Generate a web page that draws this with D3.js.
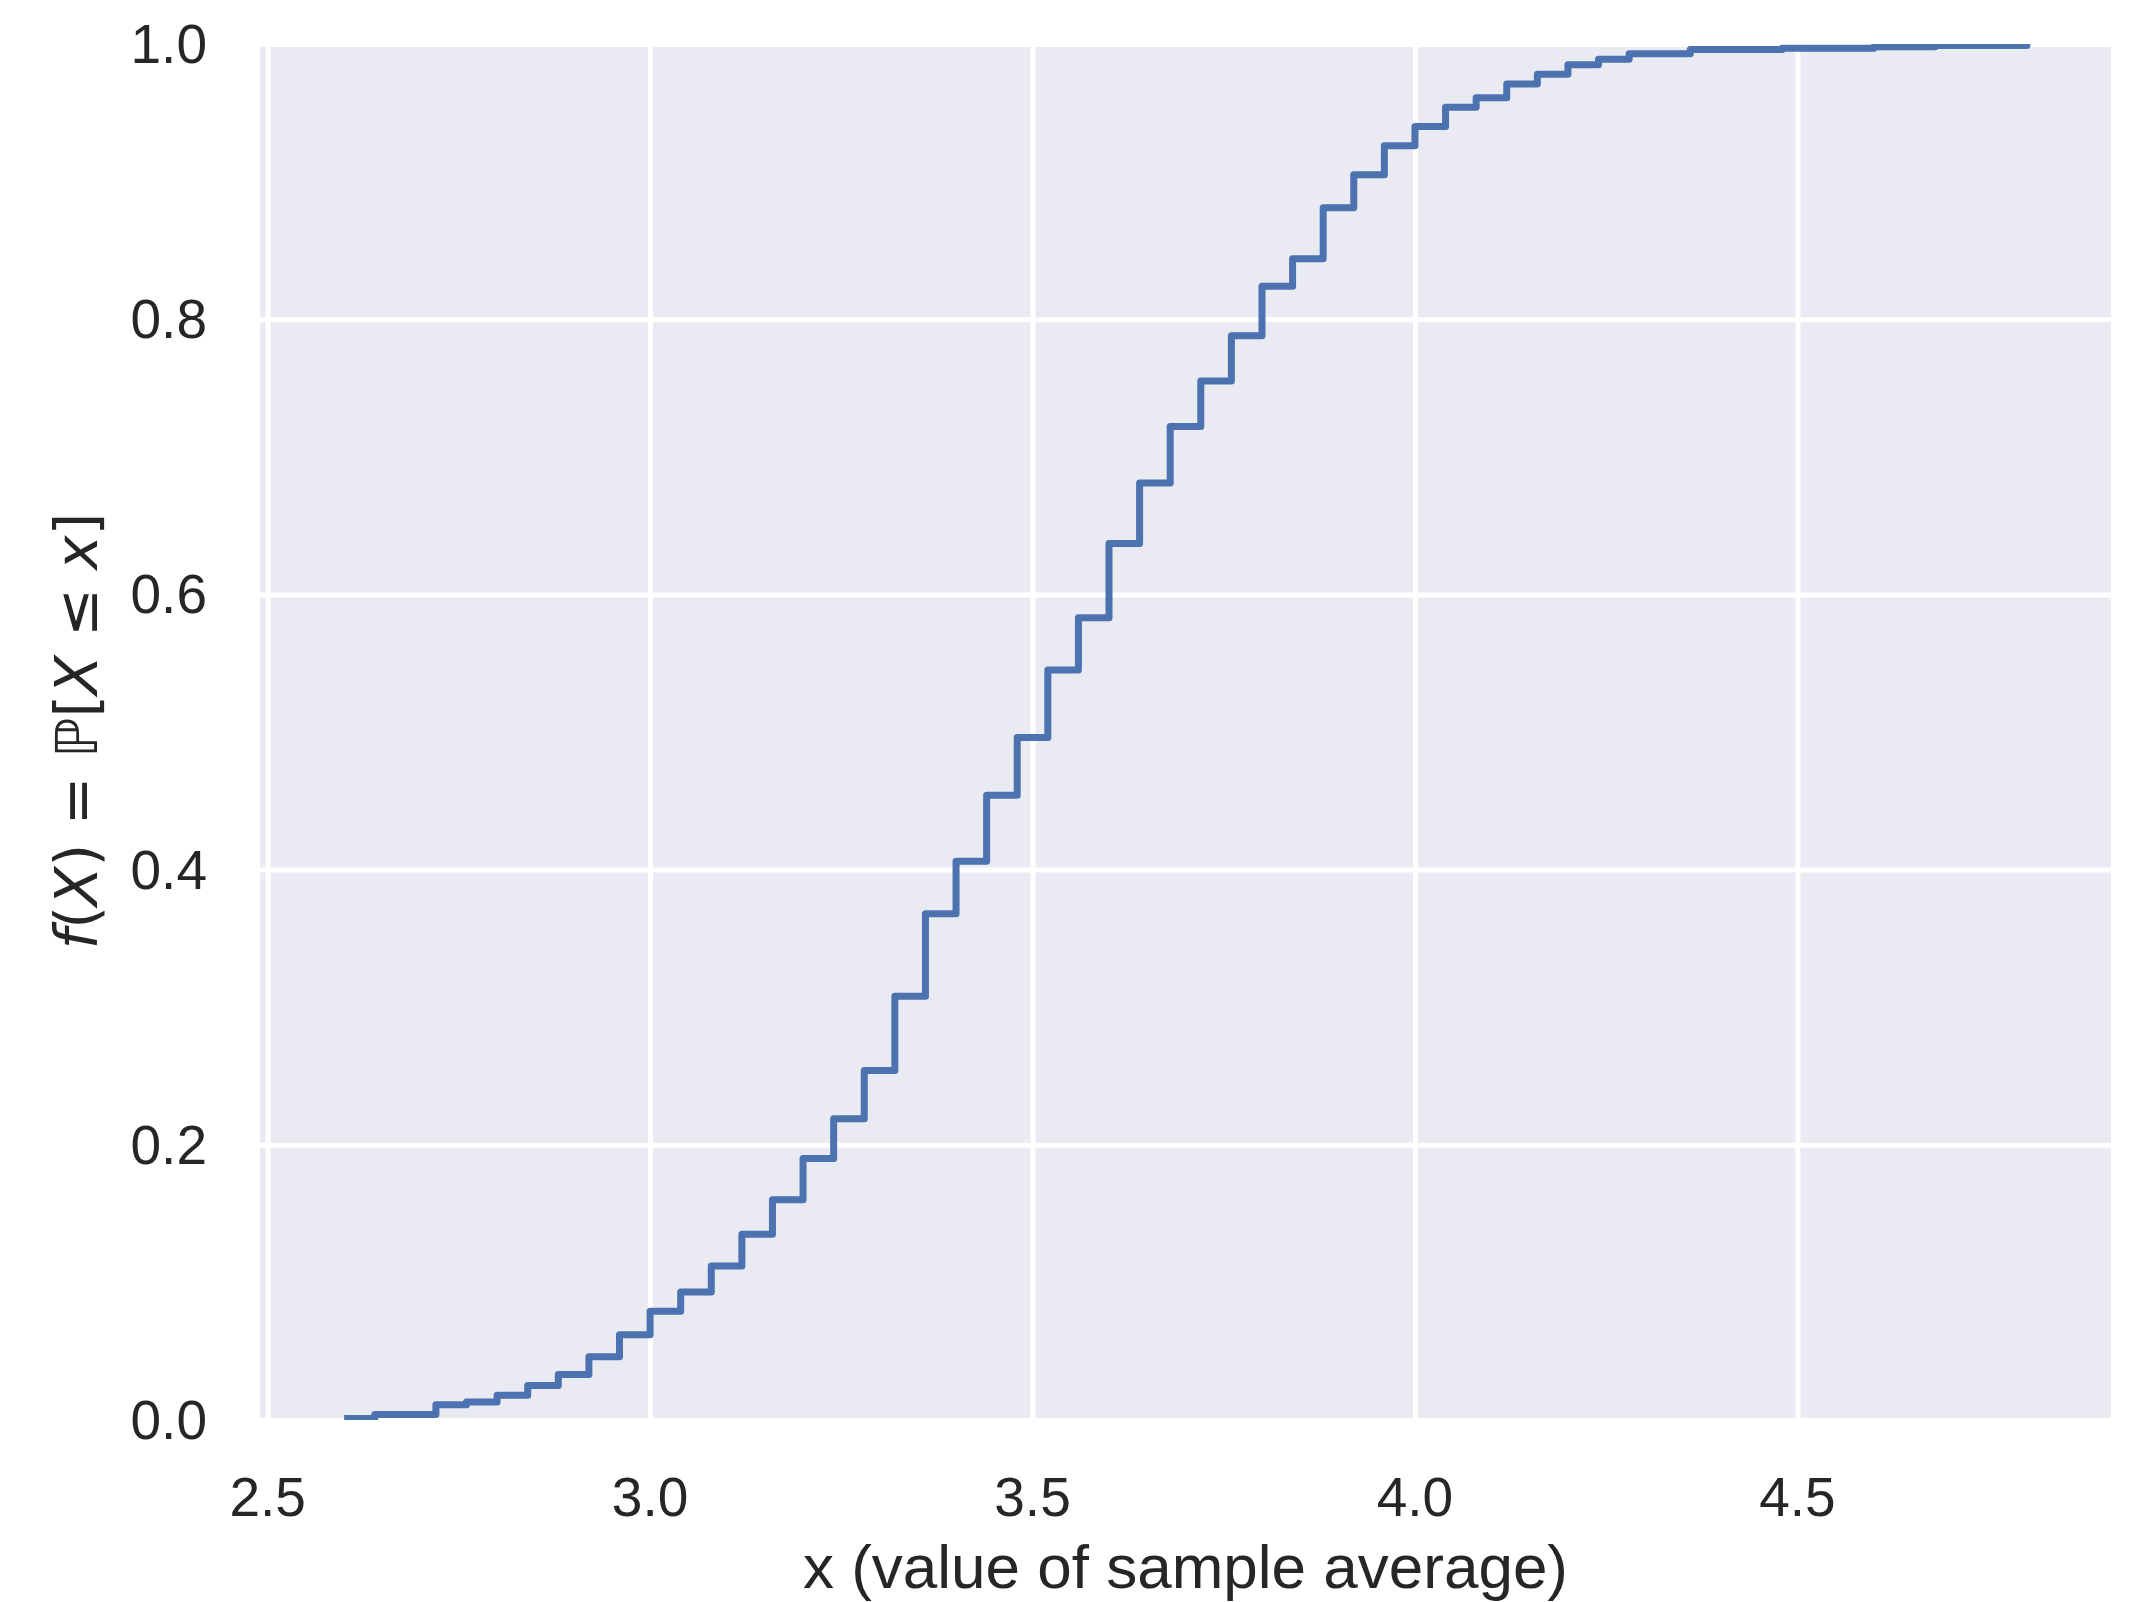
<!DOCTYPE html>
<html>
<head>
<meta charset="utf-8">
<script src="https://cdn.jsdelivr.net/npm/d3@7"></script>
<style>
  html, body { margin: 0; padding: 0; background: #ffffff; }
  svg { display: block; }
</style>
</head>
<body>
<svg id="chart" width="2137" height="1602"></svg>
<script>
// Sample-average values (x) where the ECDF jumps
const xValues = [2.60, 2.64, 2.72, 2.76, 2.80, 2.84, 2.88, 2.92, 2.96, 3.00,
                 3.04, 3.08, 3.12, 3.16, 3.20, 3.24, 3.28, 3.32, 3.36, 3.40,
                 3.44, 3.48, 3.52, 3.56, 3.60, 3.64, 3.68, 3.72, 3.76, 3.80,
                 3.84, 3.88, 3.92, 3.96, 4.00, 4.04, 4.08, 4.12, 4.16, 4.20,
                 4.24, 4.28, 4.36, 4.48, 4.60, 4.68, 4.80];
// Cumulative proportion at each x
const cdfValues = [0.001, 0.004, 0.011, 0.013, 0.018, 0.025, 0.033, 0.046, 0.062, 0.079,
                   0.093, 0.112, 0.135, 0.160, 0.190, 0.219, 0.254, 0.308, 0.368, 0.406,
                   0.454, 0.496, 0.545, 0.583, 0.637, 0.681, 0.722, 0.755, 0.788, 0.824,
                   0.844, 0.881, 0.905, 0.926, 0.940, 0.954, 0.961, 0.971, 0.978, 0.985,
                   0.989, 0.993, 0.996, 0.997, 0.998, 0.999, 1.000];
const xTicks = [2.5, 3.0, 3.5, 4.0, 4.5];
const yTicks = [0.0, 0.2, 0.4, 0.6, 0.8, 1.0];
const xDomain = [2.49, 4.91];
const yDomain = [0, 1];

const margin = {left: 260, top: 44, right: 2137 - 2111, bottom: 1602 - 1420};
const W = 2137, H = 1602;
const innerW = W - margin.left - margin.right;
const innerH = H - margin.top - margin.bottom;

const svg = d3.select("#chart");
const g = svg.append("g").attr("transform", `translate(${margin.left},${margin.top})`);

const x = d3.scaleLinear().domain(xDomain).range([0, innerW]);
const y = d3.scaleLinear().domain(yDomain).range([innerH, 0]);

// background
g.append("rect").attr("width", innerW).attr("height", innerH).attr("fill", "#EAEAF2");

// clip
svg.append("defs").append("clipPath").attr("id", "clip")
  .append("rect").attr("width", innerW).attr("height", innerH);

// gridlines via axes
const gx = g.append("g")
  .call(d3.axisBottom(x).tickValues(xTicks).tickSize(innerH).tickFormat(d3.format(".1f")));
gx.select(".domain").remove();
gx.selectAll(".tick line").attr("stroke", "#ffffff").attr("stroke-width", 5);
gx.selectAll(".tick text").remove();

const gy = g.append("g")
  .call(d3.axisLeft(y).tickValues(yTicks).tickSize(-innerW).tickFormat(d3.format(".1f")));
gy.select(".domain").remove();
gy.selectAll(".tick line").attr("stroke", "#ffffff").attr("stroke-width", 5);
gy.selectAll(".tick text").remove();

// tick labels
const tickFont = "'Liberation Sans', Arial, sans-serif";
g.append("g").selectAll("text").data(xTicks).join("text")
  .attr("x", d => x(d)).attr("y", innerH + 96)
  .attr("text-anchor", "middle")
  .attr("font-family", tickFont).attr("font-size", 55).attr("fill", "#262626")
  .text(d => d3.format(".1f")(d));

g.append("g").selectAll("text").data(yTicks).join("text")
  .attr("x", -53).attr("y", d => y(d) + 19)
  .attr("text-anchor", "end")
  .attr("font-family", tickFont).attr("font-size", 55).attr("fill", "#262626")
  .text(d => d3.format(".1f")(d));

// ECDF step line
const line = d3.line().x(d => x(d[0])).y(d => y(d[1])).curve(d3.curveStepAfter);
const pts = xValues.map((v, i) => [v, cdfValues[i]]);
g.append("path").datum(pts)
  .attr("clip-path", "url(#clip)")
  .attr("d", line)
  .attr("fill", "none").attr("stroke", "#4C72B0").attr("stroke-width", 7)
  .attr("stroke-linejoin", "round").attr("stroke-linecap", "butt");

// axis labels
svg.append("text")
  .attr("x", margin.left + innerW / 2).attr("y", 1588)
  .attr("text-anchor", "middle")
  .attr("font-family", tickFont).attr("font-size", 62).attr("fill", "#262626")
  .text("x (value of sample average)");

const yl = svg.append("text")
  .attr("transform", "translate(97,731) rotate(-90)")
  .attr("text-anchor", "middle")
  .attr("font-family", "'DejaVu Sans', sans-serif").attr("font-size", 58).attr("fill", "#262626");
yl.append("tspan").attr("font-style", "italic").text("f");
yl.append("tspan").text("(");
yl.append("tspan").attr("font-style", "italic").text("X");
yl.append("tspan").text(") = ℙ[");
yl.append("tspan").attr("font-style", "italic").text("X");
yl.append("tspan").text(" ≤ ");
yl.append("tspan").attr("font-style", "italic").text("x");
yl.append("tspan").text("]");
</script>
</body>
</html>
